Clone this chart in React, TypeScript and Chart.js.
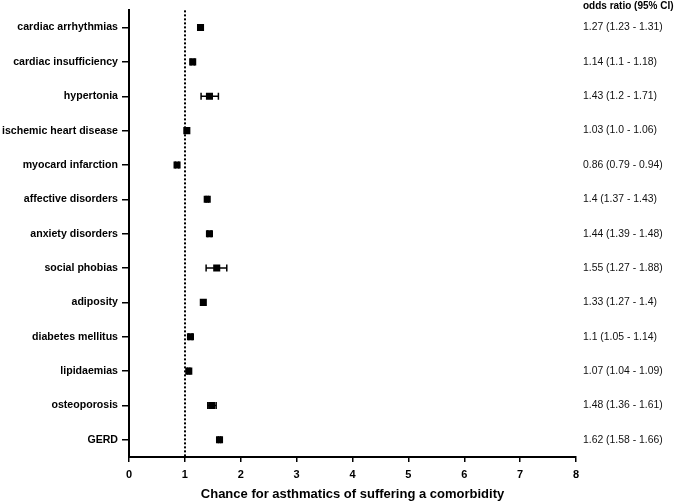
import React, { useEffect, useRef } from "react";
import { Chart, registerables } from "chart.js";

Chart.register(...registerables);

const categories = [
  "cardiac arrhythmias",
  "cardiac insufficiency",
  "hypertonia",
  "ischemic heart disease",
  "myocard infarction",
  "affective disorders",
  "anxiety disorders",
  "social phobias",
  "adiposity",
  "diabetes mellitus",
  "lipidaemias",
  "osteoporosis",
  "GERD",
];
// values as plotted
const oddsRatio = [1.28, 1.14, 1.44, 1.035, 0.86, 1.4, 1.44, 1.57, 1.33, 1.1, 1.07, 1.48, 1.62];
const ciLower = [1.25, 1.11, 1.29, 1.01, 0.83, 1.38, 1.41, 1.38, 1.3, 1.07, 1.05, 1.41, 1.6];
const ciUpper = [1.31, 1.17, 1.6, 1.06, 0.89, 1.42, 1.47, 1.75, 1.36, 1.13, 1.09, 1.56, 1.64];
const ciLabels = [
  "1.27 (1.23 - 1.31)",
  "1.14 (1.1 - 1.18)",
  "1.43 (1.2 - 1.71)",
  "1.03 (1.0 - 1.06)",
  "0.86 (0.79 - 0.94)",
  "1.4 (1.37 - 1.43)",
  "1.44 (1.39 - 1.48)",
  "1.55 (1.27 - 1.88)",
  "1.33 (1.27 - 1.4)",
  "1.1 (1.05 - 1.14)",
  "1.07 (1.04 - 1.09)",
  "1.48 (1.36 - 1.61)",
  "1.62 (1.58 - 1.66)",
];
const headerLabel = "odds ratio (95% CI)";
const xTitle = "Chance for asthmatics of suffering a comorbidity";
const referenceValue = 1;

const FONT = "'Liberation Sans', Arial, sans-serif";

const forestPlugin = {
  id: "forest",
  beforeDatasetsDraw(chart: any) {
    const { ctx, chartArea, scales } = chart;
    const xs = scales.x;
    const ys = scales.y;
    ctx.save();
    const rx = Math.round(xs.getPixelForValue(referenceValue));
    ctx.strokeStyle = "#000";
    ctx.lineWidth = 2;
    ctx.setLineDash([2, 2]);
    ctx.beginPath();
    ctx.moveTo(rx, chartArea.top);
    ctx.lineTo(rx, chartArea.bottom);
    ctx.stroke();
    ctx.setLineDash([]);
    ctx.lineWidth = 1.5;
    for (let i = 0; i < categories.length; i++) {
      const y = ys.getPixelForValue(i);
      const xl = xs.getPixelForValue(ciLower[i]);
      const xu = xs.getPixelForValue(ciUpper[i]);
      ctx.beginPath();
      ctx.moveTo(xl, y);
      ctx.lineTo(xu, y);
      ctx.moveTo(xl, y - 3.5);
      ctx.lineTo(xl, y + 3.5);
      ctx.moveTo(xu, y - 3.5);
      ctx.lineTo(xu, y + 3.5);
      ctx.stroke();
    }
    ctx.restore();
  },
  afterDraw(chart: any) {
    const { ctx, scales } = chart;
    const ys = scales.y;
    const tx = 583;
    ctx.save();
    ctx.fillStyle = "#000";
    ctx.textAlign = "left";
    ctx.textBaseline = "middle";
    ctx.font = `bold 10px ${FONT}`;
    ctx.fillText(headerLabel, tx, 6);
    ctx.font = `10.4px ${FONT}`;
    ctx.fillStyle = "#111";
    for (let i = 0; i < categories.length; i++) {
      ctx.fillText(ciLabels[i], tx, ys.getPixelForValue(i));
    }
    ctx.restore();
  },
};

export default function App() {
  const ref = useRef<HTMLCanvasElement>(null);
  useEffect(() => {
    document.body.style.margin = "0";
    const chart = new Chart(ref.current!, {
      type: "scatter",
      data: {
        datasets: [
          {
            data: categories.map((c, i) => ({ x: oddsRatio[i], y: c })) as any,
            pointStyle: "rect",
            radius: 5,
            hoverRadius: 5,
            backgroundColor: "#000",
            borderColor: "#000",
            borderWidth: 0,
          },
        ],
      },
      options: {
        animation: false,
        responsive: false,
        events: [],
        layout: { padding: { top: 8, right: 99, bottom: 0, left: 0 } },
        plugins: { legend: { display: false }, tooltip: { enabled: false } },
        scales: {
          x: {
            type: "linear",
            min: 0,
            max: 8,
            ticks: { stepSize: 1, color: "#000", font: { family: FONT, size: 11, weight: "bold" }, padding: 6 },
            grid: { drawOnChartArea: false, drawTicks: true, tickLength: 5, color: "#000", lineWidth: 1.5 },
            border: { display: true, color: "#000", width: 2 },
            title: {
              display: true,
              text: xTitle,
              color: "#000",
              font: { family: FONT, size: 13, weight: "bold" },
              padding: { top: 5, bottom: 0 },
            },
            afterFit(scale: any) {
              scale.height = 45;
            },
          },
          y: {
            type: "category",
            labels: categories,
            offset: true,
            ticks: { color: "#000", font: { family: FONT, size: 10.6, weight: "bold" }, padding: 4 },
            grid: { drawOnChartArea: false, drawTicks: true, tickLength: 7, offset: false, color: "#000", lineWidth: 1.5 },
            border: { display: true, color: "#000", width: 2 },
            afterFit(scale: any) {
              scale.width = 129;
            },
          },
        },
      },
      plugins: [forestPlugin],
    });
    return () => chart.destroy();
  }, []);
  return <canvas ref={ref} width={675} height={502} style={{ display: "block" }} />;
}
